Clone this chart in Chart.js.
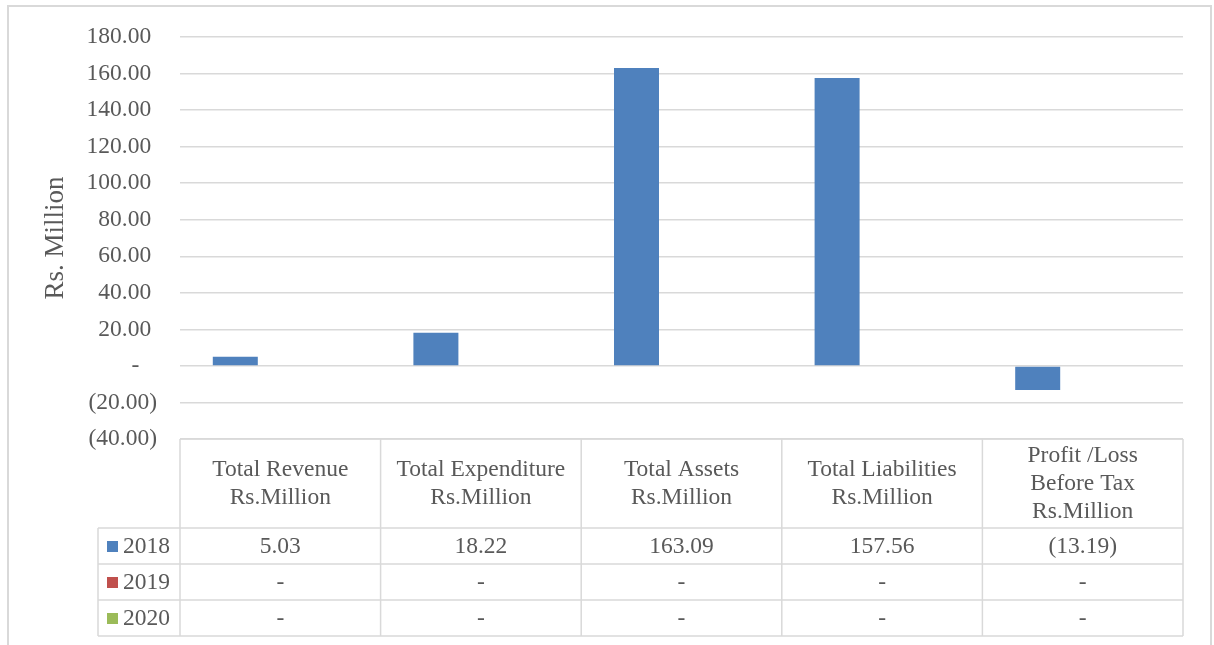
<!DOCTYPE html>
<html>
<head>
<meta charset="utf-8">
<script src="https://cdn.jsdelivr.net/npm/chart.js@4.4.0/dist/chart.umd.min.js"></script>
<style>
  html, body { margin: 0; padding: 0; background: #fff; }
  #wrap { position: relative; width: 1214px; height: 645px; overflow: hidden; }
  #frame { position: absolute; left: 7px; top: 5px; width: 1205px; height: 700px;
           border: 2px solid #d9d9d9; box-sizing: border-box; pointer-events: none; }
  #chart { position: absolute; left: 0; top: 0; }
</style>
</head>
<body>
<div id="wrap">
  <canvas id="chart" width="1214" height="645"></canvas>
  <div id="frame"></div>
</div>
<script>
// data
const categories = [
  ['Total Revenue', 'Rs.Million'],
  ['Total Expenditure', 'Rs.Million'],
  ['Total Assets', 'Rs.Million'],
  ['Total Liabilities', 'Rs.Million'],
  ['Profit /Loss', 'Before Tax', 'Rs.Million']
];
const years = ['2018', '2019', '2020'];
const values2018 = [5.03, 18.22, 163.09, 157.56, -13.19];
const values2019 = [0, 0, 0, 0, 0];
const values2020 = [0, 0, 0, 0, 0];
const yMin = -40, yMax = 180, yStep = 20;

const colors = ['#4f81bd', '#c0504d', '#9bbb59'];
const textColor = '#595959';
const lineColor = '#d9d9d9';
const serif = '"Liberation Serif", "Times New Roman", serif';

// accounting style number: 5.03 / (13.19) / -
function fmt(v) {
  if (v === 0) return '-';
  const s = Math.abs(v).toFixed(2);
  return v < 0 ? '(' + s + ')' : s;
}

// data table under the plot area (Excel style)
const dataTable = {
  id: 'dataTable',
  afterDraw(chart) {
    const ctx = chart.ctx;
    const xs = chart.scales.x;
    const area = chart.chartArea;
    const series = [values2018, values2019, values2020];
    const headH = 89, rowH = 36;
    const legendLeft = 98;
    const top = area.bottom;
    const rowsTop = top + headH;
    const bottom = rowsTop + rowH * series.length;
    const half = (area.right - area.left) / categories.length / 2;

    ctx.save();
    ctx.strokeStyle = lineColor;
    ctx.lineWidth = 1.5;
    ctx.beginPath();
    // horizontal lines
    ctx.moveTo(area.left, top); ctx.lineTo(area.right, top);
    for (let r = 0; r <= series.length; r++) {
      const y = rowsTop + r * rowH;
      ctx.moveTo(legendLeft, y); ctx.lineTo(area.right, y);
    }
    // vertical lines
    ctx.moveTo(legendLeft, rowsTop); ctx.lineTo(legendLeft, bottom);
    categories.forEach((c, i) => {
      const cx = xs.getPixelForValue(i);
      ctx.moveTo(cx - half, top); ctx.lineTo(cx - half, bottom);
      if (i === categories.length - 1) { ctx.moveTo(cx + half, top); ctx.lineTo(cx + half, bottom); }
    });
    ctx.stroke();

    ctx.fillStyle = textColor;
    ctx.font = '23.5px ' + serif;
    ctx.textAlign = 'center';
    ctx.textBaseline = 'middle';
    const lh = 28;
    const headMid = top + headH / 2;
    categories.forEach((lines, i) => {
      const cx = xs.getPixelForValue(i);
      lines.forEach((t, k) => {
        ctx.fillText(t, cx, headMid + (k - (lines.length - 1) / 2) * lh);
      });
    });

    series.forEach((vals, r) => {
      const my = rowsTop + r * rowH + rowH / 2 + 1;
      ctx.fillStyle = colors[r];
      ctx.fillRect(107, my - 6, 11, 11);
      ctx.fillStyle = textColor;
      ctx.textAlign = 'left';
      ctx.fillText(years[r], 123, my);
      ctx.textAlign = 'center';
      vals.forEach((v, i) => ctx.fillText(fmt(v), xs.getPixelForValue(i), my));
    });
    ctx.restore();
  }
};

new Chart(document.getElementById('chart'), {
  type: 'bar',
  data: {
    labels: categories,
    datasets: [
      { label: years[0], data: values2018, backgroundColor: colors[0] },
      { label: years[1], data: values2019, backgroundColor: colors[1] },
      { label: years[2], data: values2020, backgroundColor: colors[2] }
    ]
  },
  options: {
    responsive: false,
    animation: false,
    layout: { padding: { left: 0, right: 31, top: 35, bottom: 206 } },
    datasets: { bar: { categoryPercentage: 0.673, barPercentage: 1.0 } },
    plugins: { legend: { display: false }, tooltip: { enabled: false } },
    scales: {
      x: { display: false },
      y: {
        min: yMin,
        max: yMax,
        afterFit: (s) => { s.width = 180; },
        border: { display: false },
        grid: { color: lineColor, lineWidth: 1.5, drawTicks: false },
        ticks: {
          stepSize: yStep,
          padding: 23,
          color: textColor,
          font: { family: serif, size: 23.5 },
          callback: (v) => v === 0 ? '-\u2002\u2005' : fmt(v) + (v > 0 ? '\u2005' : '')
        },
        title: {
          display: true,
          text: 'Rs. Million',
          color: textColor,
          font: { family: serif, size: 27 },
          padding: { top: 40, bottom: 0 }
        }
      }
    }
  },
  plugins: [dataTable]
});
</script>
</body>
</html>
